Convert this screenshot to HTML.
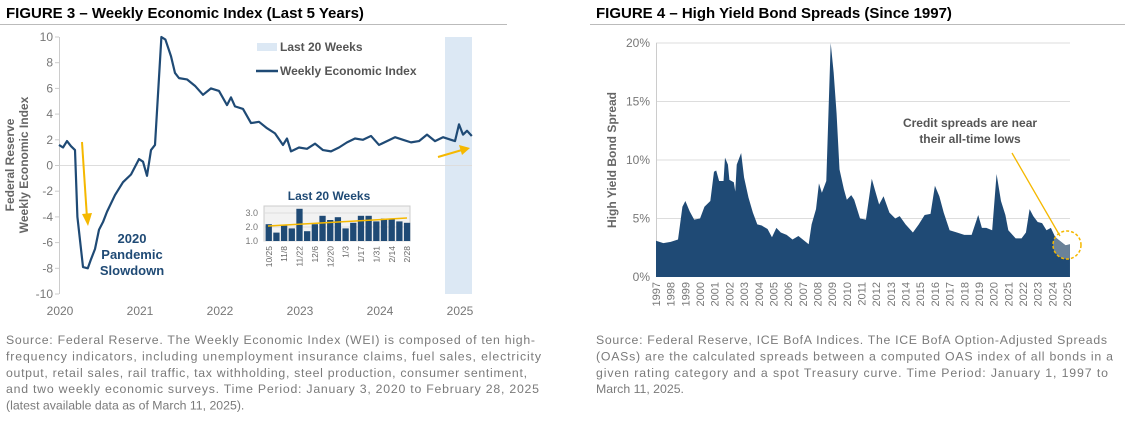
<!DOCTYPE html>
<html><head><meta charset="utf-8">
<style>
body{margin:0;background:#fff;width:1125px;height:430px;overflow:hidden;font-family:"Liberation Sans",Arial,sans-serif;}
svg{position:absolute;left:0;top:0}
</style></head><body>
<svg id="c" width="1125" height="430"></svg>
<script>
const weiTimes=[2020.0,2020.05,2020.1,2020.15,2020.2,2020.23,2020.3,2020.36,2020.4,2020.45,2020.5,2020.55,2020.6,2020.7,2020.8,2020.9,2021.0,2021.05,2021.1,2021.15,2021.2,2021.28,2021.33,2021.4,2021.45,2021.5,2021.6,2021.7,2021.8,2021.9,2022.0,2022.1,2022.15,2022.2,2022.3,2022.4,2022.5,2022.6,2022.7,2022.8,2022.85,2022.9,2023.0,2023.1,2023.2,2023.3,2023.4,2023.5,2023.6,2023.7,2023.8,2023.9,2024.0,2024.1,2024.2,2024.3,2024.4,2024.5,2024.6,2024.7,2024.8,2024.9,2024.95,2025.0,2025.05,2025.1,2025.16];
const weiValues=[1.6,1.4,1.9,1.5,1.2,-4,-7.9,-8.0,-7.3,-6.5,-5.0,-4.4,-3.6,-2.3,-1.3,-0.7,0.5,0.3,-0.8,1.2,1.6,10,9.8,8.5,7.2,6.8,6.7,6.2,5.5,6.0,5.8,4.7,5.3,4.6,4.4,3.3,3.4,2.9,2.5,1.6,2.1,1.1,1.4,1.3,1.7,1.2,1.1,1.4,1.8,2.1,2.0,2.3,1.6,1.9,2.2,2.0,1.8,1.9,2.4,1.9,2.2,2.0,1.9,3.2,2.4,2.7,2.3];
const insetLabels=["10/25","11/1","11/8","11/15","11/22","11/29","12/6","12/13","12/20","12/27","1/3","1/10","1/17","1/24","1/31","2/7","2/14","2/21","2/28"];
const insetValues=[2.2,1.6,2.1,1.9,3.3,1.7,2.2,2.8,2.5,2.7,1.9,2.3,2.8,2.8,2.4,2.6,2.6,2.4,2.3];
const weiTicks=[10,8,6,4,2,0,-2,-4,-6,-8,-10];
const weiYears=[2020,2021,2022,2023,2024,2025];
const hyTimes=[1997.0,1997.5,1998.0,1998.5,1998.8,1999.0,1999.3,1999.6,2000.0,2000.3,2000.7,2000.95,2001.1,2001.3,2001.6,2001.7,2001.9,2002.0,2002.3,2002.4,2002.5,2002.8,2003.0,2003.3,2003.6,2003.9,2004.2,2004.6,2004.9,2005.2,2005.5,2005.9,2006.3,2006.7,2007.0,2007.4,2007.6,2007.9,2008.1,2008.3,2008.6,2008.9,2009.1,2009.3,2009.5,2009.8,2010.0,2010.3,2010.5,2010.9,2011.3,2011.7,2011.9,2012.2,2012.5,2012.9,2013.3,2013.6,2014.0,2014.5,2014.9,2015.3,2015.7,2016.0,2016.3,2016.6,2017.0,2017.5,2018.0,2018.5,2018.95,2019.2,2019.5,2019.9,2020.2,2020.5,2020.8,2021.0,2021.5,2021.9,2022.2,2022.45,2022.7,2023.0,2023.3,2023.6,2023.9,2024.2,2024.6,2024.9,2025.2];
const hyValues=[3.1,2.9,3.0,3.2,6.0,6.5,5.6,4.9,5.0,6.0,6.5,9.0,9.1,8.2,8.2,10.2,9.6,8.3,8.1,7.3,9.6,10.6,8.5,6.8,5.5,4.5,4.4,4.1,3.4,4.2,3.8,3.6,3.2,3.5,3.2,2.8,4.5,5.8,8.0,7.2,8.2,20,17.5,14,9.2,7.5,6.6,7.0,6.6,5.0,4.9,8.4,7.5,6.2,6.9,5.5,5.0,5.2,4.5,3.8,4.5,5.3,5.4,7.8,6.9,5.5,4.0,3.8,3.6,3.6,5.3,4.2,4.2,4.0,8.8,6.5,5.3,4.0,3.3,3.3,3.8,5.8,5.2,4.7,4.6,4.0,4.2,3.4,3.0,2.7,2.8];
const hyTicks=[0,5,10,15,20];

const NS="http://www.w3.org/2000/svg",S=document.getElementById('c');
function mk(t,a,txt){const e=document.createElementNS(NS,t);for(const k in a)e.setAttribute(k,a[k]);if(txt!==undefined)e.textContent=txt;S.appendChild(e);return e;}
const NAVY="#1f4a75",GOLD="#f5b800";
let e;
e=mk('text',{x:6,y:18,'font-size':15,'font-weight':'bold',fill:'#000','xml:space':'preserve'},'FIGURE 3 – Weekly Economic Index    (Last 5 Years)');

mk('line',{x1:0,y1:24.5,x2:507,y2:24.5,stroke:'#bbb'});
e=mk('text',{x:596,y:18,'font-size':15,'font-weight':'bold',fill:'#000','xml:space':'preserve'},'FIGURE 4 – High Yield Bond Spreads  (Since 1997)');

mk('line',{x1:590,y1:24.5,x2:1125,y2:24.5,stroke:'#bbb'});

// source notes
const leftNote=[["Source: Federal Reserve. The Weekly Economic Index (WEI) is composed of ten high-",529],["frequency indicators, including unemployment insurance claims, fuel sales, electricity",535],["output, retail sales, rail traffic, tax withholding, steel production, consumer sentiment,",521],["and two weekly economic surveys. Time Period: January 3, 2020 to February 28, 2025",533],["(latest available data as of March 11, 2025).",0]];
const rightNote=[["Source: Federal Reserve, ICE BofA Indices. The ICE BofA Option-Adjusted Spreads",511],["(OASs) are the calculated spreads between a computed OAS index of all bonds in a",517],["given rating category and a spot Treasury curve. Time Period: January 1, 1997 to",512],["March 11, 2025.",0]];
function note(lines,x,name){lines.forEach(([s,w],i)=>{const a={x:x,y:344+i*16.4,'font-size':12.3,fill:'#7a7a7a'};if(w){a.textLength=w;a.lengthAdjust='spacing';}
 e=mk('text',a,s);});}
note(leftNote,6,'left-source-note');note(rightNote,596,'right-source-note');

const lx=t=>59+(t-2020)*80, ly=v=>165.5-v*12.85;
e=mk('rect',{x:445,y:37,width:27,height:257,fill:'#dce8f4'});

mk('line',{x1:59,y1:ly(0),x2:472,y2:ly(0),stroke:'#ddd'});
mk('line',{x1:59.5,y1:37,x2:59.5,y2:294,stroke:'#ccc'});
weiTicks.forEach(v=>{mk('line',{x1:55,y1:ly(v),x2:59,y2:ly(v),stroke:'#ccc'});
 e=mk('text',{x:53,y:ly(v)+4,'font-size':12,fill:'#777','text-anchor':'end'},v);
 });
weiYears.forEach(y=>{e=mk('text',{x:lx(y)+1,y:315,'font-size':12,fill:'#777','text-anchor':'middle'},y);
 });
e=mk('text',{'font-size':12,'font-weight':'bold',fill:'#666','text-anchor':'middle',transform:'translate(14,165) rotate(-90)'},'Federal Reserve');

mk('text',{'font-size':12,'font-weight':'bold',fill:'#666','text-anchor':'middle',transform:'translate(28,165) rotate(-90)'},'Weekly Economic Index');
e=mk('polyline',{points:weiTimes.map((t,i)=>lx(t)+','+Math.max(37,ly(weiValues[i]))).join(' '),fill:'none',stroke:NAVY,'stroke-width':2.2,'stroke-linejoin':'round'});

e=mk('rect',{x:257,y:43,width:20,height:8,fill:'#dce8f4'});
e=mk('text',{x:280,y:51,'font-size':12,fill:'#555','font-weight':'bold'},'Last 20 Weeks');
mk('line',{x1:256,y1:71,x2:278,y2:71,stroke:NAVY,'stroke-width':2.5});
e=mk('text',{x:280,y:75,'font-size':12,fill:'#555','font-weight':'bold'},'Weekly Economic Index');
mk('line',{x1:82,y1:142,x2:87,y2:218,stroke:GOLD,'stroke-width':2});
mk('polygon',{points:'82,214 92,213 88,226',fill:GOLD});
mk('line',{x1:438,y1:157,x2:462,y2:150,stroke:GOLD,'stroke-width':2});
mk('polygon',{points:'459,145 470,148 462,155',fill:GOLD});
[['2020',243],['Pandemic',259],['Slowdown',275]].forEach(([s,y])=>{e=mk('text',{x:132,y:y,'font-size':13,'font-weight':'bold',fill:NAVY,'text-anchor':'middle'},s);
 });
const ix0=264,ix1=410,iy=v=>241-(v-1)*14;
e=mk('text',{x:329,y:200,'font-size':12,'font-weight':'bold',fill:NAVY,'text-anchor':'middle'},'Last 20 Weeks');
mk('rect',{x:ix0,y:206,width:ix1-ix0,height:35,fill:'#f2f2f2',stroke:'#ccc'});
[1,2,3].forEach(v=>{mk('line',{x1:ix0,y1:iy(v),x2:ix1,y2:iy(v),stroke:'#ddd'});
 mk('text',{x:258,y:iy(v)+3,'font-size':9,fill:'#777','text-anchor':'end'},v.toFixed(1));});
const bw=(ix1-ix0)/insetValues.length;
insetValues.forEach((v,i)=>{e=mk('rect',{x:ix0+1+i*bw+0.6,y:iy(v),width:bw-1.4,height:241-iy(v),fill:NAVY});
 
 if(i%2===0){const cx=ix0+1+i*bw+bw/2+3;mk('text',{'font-size':8.5,fill:'#666','text-anchor':'end',transform:`translate(${cx},246) rotate(-90)`},insetLabels[i]);}});
mk('line',{x1:268,y1:226,x2:407,y2:218,stroke:GOLD,'stroke-width':1.5});

const rx=t=>656+(t-1997)*14.68, ry=v=>277-v*11.7;
hyTicks.forEach(v=>{if(v>0)mk('line',{x1:656,y1:ry(v),x2:1070,y2:ry(v),stroke:'#ddd'});
 e=mk('text',{x:650,y:ry(v)+4,'font-size':12,fill:'#777','text-anchor':'end'},v+'%');
 });
mk('line',{x1:656.5,y1:43,x2:656.5,y2:277,stroke:'#ccc'});
let pts=hyTimes.map((t,i)=>rx(t)+','+ry(hyValues[i]));
const poly=rx(hyTimes[0])+','+ry(0)+' '+pts.join(' ')+' '+rx(hyTimes[hyTimes.length-1])+','+ry(0);
e=mk('polygon',{points:poly,fill:NAVY});

const defs=mk('defs',{});const cp=document.createElementNS(NS,'clipPath');cp.setAttribute('id','cc');
const cc=document.createElementNS(NS,'circle');cc.setAttribute('cx',1067);cc.setAttribute('cy',245);cc.setAttribute('r',14);cp.appendChild(cc);defs.appendChild(cp);
mk('polygon',{points:poly,fill:'#6a8299','clip-path':'url(#cc)'});
e=mk('circle',{cx:1067,cy:245,r:14,fill:'none',stroke:GOLD,'stroke-width':1.5,'stroke-dasharray':'3,2'});

for(let y=1997;y<=2025;y++){e=mk('text',{'font-size':11,fill:'#777','text-anchor':'end',transform:`translate(${rx(y)+4},282) rotate(-90)`},y);
 }
e=mk('text',{'font-size':12,'font-weight':'bold',fill:'#666','text-anchor':'middle',transform:'translate(616,160) rotate(-90)'},'High Yield Bond Spread');

e=mk('text',{x:970,y:127,'font-size':12,'font-weight':'bold',fill:'#555','text-anchor':'middle'},'Credit spreads are near');

mk('text',{x:970,y:143,'font-size':12,'font-weight':'bold',fill:'#555','text-anchor':'middle'},'their all-time lows');
mk('line',{x1:1012,y1:153,x2:1060,y2:236,stroke:GOLD,'stroke-width':1.3});
</script>
</body></html>
